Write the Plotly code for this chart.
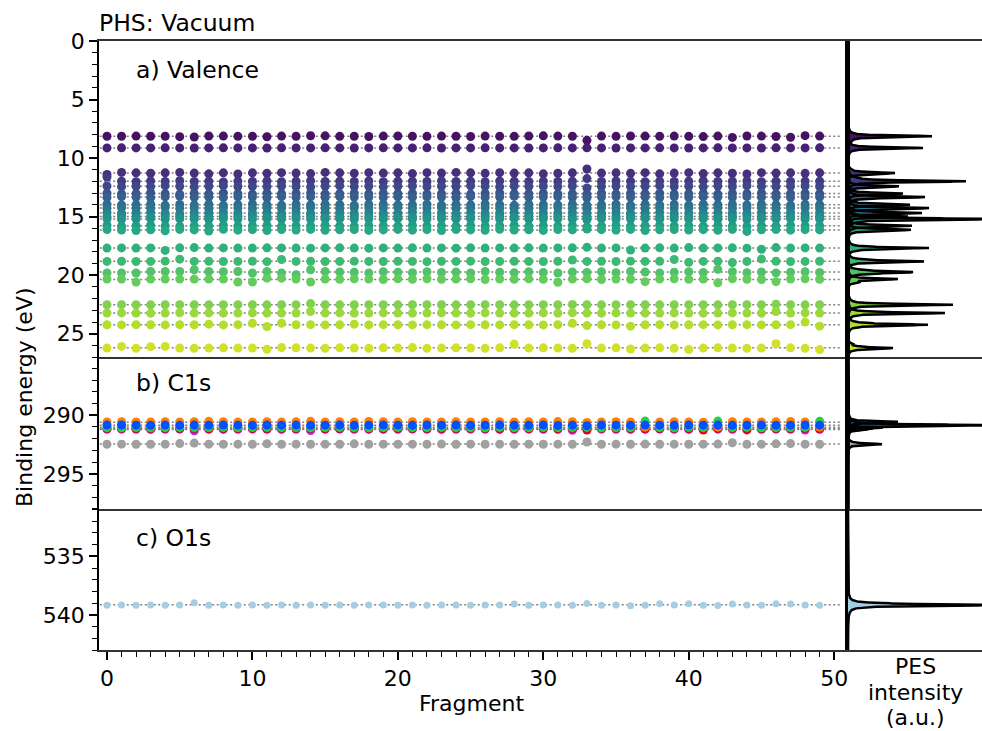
import numpy as np
import plotly.graph_objects as go
from plotly.subplots import make_subplots
from plotly.colors import sample_colorscale

# ---------------- data ----------------
fragments = list(range(50))

val_01 = [8.13, 8.13, 8.12, 8.13, 8.13, 8.17, 8.20, 8.11, 8.12, 8.14,
          8.13, 8.18, 8.12, 8.13, 8.09, 8.10, 8.14, 8.13, 8.15, 8.12,
          8.11, 8.13, 8.14, 8.12, 8.13, 8.15, 8.12, 8.13, 8.14, 8.11,
          8.10, 8.12, 8.13, 8.48, 8.12, 8.14, 8.11, 8.12, 8.13, 8.12,
          8.14, 8.16, 8.12, 8.23, 8.11, 8.12, 8.15, 8.22, 8.08, 8.12]
val_02 = [9.13, 9.12, 9.13, 9.13, 9.12, 9.13, 9.14, 9.13, 9.12, 9.13,
          9.13, 9.14, 9.12, 9.13, 9.13, 9.12, 9.13, 9.14, 9.13, 9.12,
          9.13, 9.13, 9.12, 9.14, 9.13, 9.13, 9.12, 9.13, 9.13, 9.14,
          9.13, 9.12, 9.13, 9.12, 9.13, 9.14, 9.13, 9.13, 9.12, 9.13,
          9.14, 9.13, 9.12, 9.13, 9.13, 9.14, 9.12, 9.13, 9.13, 9.12]
val_03 = [11.39, 11.22, 11.26, 11.29, 11.26, 11.22, 11.28, 11.34, 11.26, 11.36,
          11.26, 11.30, 11.24, 11.28, 11.32, 11.22, 11.26, 11.30, 11.24, 11.28,
          11.26, 11.32, 11.24, 11.28, 11.22, 11.26, 11.30, 11.24, 11.28, 11.26,
          11.34, 11.29, 11.26, 10.93, 11.28, 11.26, 11.30, 11.24, 11.34, 11.28,
          11.24, 11.32, 11.26, 11.29, 11.36, 11.24, 11.28, 11.26, 11.30, 11.26]
val_04 = [11.62, 11.98, 12.01, 11.95, 11.99, 11.93, 12.00, 11.97, 12.03, 11.96,
          11.99, 11.95, 12.01, 11.98, 11.93, 12.00, 11.97, 11.99, 11.95, 12.01,
          11.98, 11.96, 12.00, 11.94, 11.99, 11.97, 12.01, 11.95, 11.98, 12.00,
          11.96, 11.99, 11.97, 11.75, 12.00, 11.95, 11.98, 12.01, 11.96, 11.99,
          11.97, 11.93, 12.00, 11.98, 11.95, 12.01, 11.97, 11.99, 11.96, 11.98]
val_05 = [12.38, 12.44, 12.40, 12.43, 12.36, 12.41, 12.46, 12.40, 12.35, 12.42,
          12.41, 12.44, 12.38, 12.42, 12.47, 12.40, 12.37, 12.43, 12.40, 12.45,
          12.41, 12.38, 12.44, 12.40, 12.42, 12.36, 12.41, 12.45, 12.39, 12.42,
          12.40, 12.43, 12.38, 12.55, 12.42, 12.39, 12.44, 12.41, 12.37, 12.42,
          12.40, 12.45, 12.39, 12.42, 12.36, 12.41, 12.44, 12.40, 12.38, 12.42]
val_06 = [13.00, 13.06, 13.03, 12.96, 13.04, 13.08, 13.01, 13.05, 12.98, 13.03,
          13.07, 13.00, 13.04, 13.02, 12.97, 13.06, 13.03, 13.00, 13.05, 13.02,
          13.04, 12.99, 13.06, 13.03, 13.01, 13.07, 13.02, 12.98, 13.04, 13.03,
          13.01, 13.06, 13.03, 13.10, 13.00, 13.05, 13.02, 13.04, 12.99, 13.06,
          13.03, 13.01, 13.07, 13.02, 13.04, 12.98, 13.05, 13.03, 13.00, 13.04]
val_07 = [13.36, 13.29, 13.33, 13.38, 13.31, 13.26, 13.34, 13.32, 13.37, 13.30,
          13.33, 13.39, 13.29, 13.34, 13.31, 13.36, 13.28, 13.33, 13.32, 13.37,
          13.30, 13.35, 13.31, 13.33, 13.38, 13.29, 13.34, 13.32, 13.27, 13.35,
          13.32, 13.30, 13.36, 13.41, 13.33, 13.29, 13.35, 13.32, 13.38, 13.30,
          13.34, 13.31, 13.33, 13.37, 13.29, 13.35, 13.32, 13.36, 13.30, 13.33]
val_08 = [13.93, 14.00, 13.97, 13.91, 14.02, 13.96, 13.99, 13.94, 14.03, 13.97,
          13.92, 13.98, 14.01, 13.95, 13.99, 13.93, 13.97, 14.02, 13.96, 13.94,
          14.00, 13.97, 13.93, 14.01, 13.96, 13.99, 13.92, 13.98, 14.03, 13.95,
          13.97, 14.00, 13.94, 14.05, 13.98, 13.93, 14.01, 13.96, 13.99, 13.95,
          14.02, 13.94, 13.98, 13.96, 14.00, 13.93, 13.97, 14.01, 13.95, 13.98]
val_09 = [14.28, 14.23, 14.31, 14.26, 14.21, 14.29, 14.25, 14.32, 14.24, 14.27,
          14.30, 14.22, 14.26, 14.29, 14.24, 14.28, 14.32, 14.23, 14.27, 14.25,
          14.21, 14.29, 14.26, 14.24, 14.31, 14.27, 14.23, 14.28, 14.25, 14.30,
          14.26, 14.22, 14.29, 14.36, 14.24, 14.28, 14.26, 14.31, 14.23, 14.27,
          14.25, 14.30, 14.22, 14.28, 14.26, 14.24, 14.31, 14.27, 14.23, 14.29]
val_10 = [14.65, 14.71, 14.68, 14.63, 14.70, 14.74, 14.66, 14.69, 14.62, 14.71,
          14.68, 14.65, 14.73, 14.67, 14.70, 14.64, 14.69, 14.72, 14.66, 14.68,
          14.71, 14.63, 14.69, 14.67, 14.74, 14.65, 14.70, 14.68, 14.64, 14.72,
          14.67, 14.70, 14.65, 14.75, 14.69, 14.66, 14.71, 14.68, 14.63, 14.70,
          14.67, 14.73, 14.65, 14.69, 14.71, 14.66, 14.68, 14.64, 14.72, 14.67]
val_11 = [15.00, 14.95, 14.98, 15.02, 14.94, 14.99, 14.97, 15.03, 14.96, 14.98,
          14.94, 15.01, 14.97, 14.99, 14.95, 15.02, 14.98, 14.96, 15.00, 14.93,
          14.98, 15.01, 14.95, 14.99, 14.97, 15.02, 14.96, 14.98, 15.00, 14.94,
          14.99, 14.97, 15.01, 15.06, 14.96, 15.00, 14.95, 14.98, 15.02, 14.97,
          14.99, 14.95, 15.00, 14.97, 14.93, 15.01, 14.98, 14.96, 15.00, 14.97]
val_12 = [15.18, 15.22, 15.20, 15.17, 15.23, 15.19, 15.21, 15.24, 15.18, 15.20,
          15.22, 15.17, 15.21, 15.19, 15.23, 15.20, 15.18, 15.22, 15.19, 15.21,
          15.17, 15.23, 15.20, 15.18, 15.21, 15.19, 15.24, 15.20, 15.17, 15.22,
          15.20, 15.18, 15.21, 15.27, 15.19, 15.22, 15.20, 15.17, 15.23, 15.19,
          15.21, 15.18, 15.22, 15.20, 15.24, 15.19, 15.21, 15.17, 15.22, 15.20]
val_13 = [15.75, 15.81, 15.77, 15.72, 15.79, 15.83, 15.76, 15.78, 15.73, 15.80,
          15.77, 15.74, 15.82, 15.76, 15.79, 15.73, 15.78, 15.81, 15.75, 15.77,
          15.80, 15.74, 15.78, 15.76, 15.83, 15.75, 15.79, 15.77, 15.72, 15.81,
          15.76, 15.78, 15.74, 15.87, 15.79, 15.75, 15.81, 15.77, 15.73, 15.80,
          15.76, 15.82, 15.75, 15.78, 15.84, 15.76, 15.79, 15.74, 15.80, 15.77]
val_14 = [16.10, 16.14, 16.18, 16.12, 16.20, 16.09, 16.13, 16.22, 16.08, 16.15,
          16.11, 16.18, 16.10, 16.14, 16.09, 16.16, 16.12, 16.10, 16.17, 16.13,
          16.09, 16.15, 16.11, 16.19, 16.10, 16.13, 16.16, 16.08, 16.14, 16.12,
          16.17, 16.10, 16.13, 16.05, 16.11, 16.15, 16.09, 16.18, 16.12, 16.10,
          16.14, 16.11, 16.16, 16.09, 16.26, 16.12, 16.10, 16.15, 16.11, 16.13]
val_15 = [17.68, 17.67, 17.68, 17.67, 17.88, 17.66, 17.64, 17.68, 17.67, 17.68,
          17.68, 17.66, 17.67, 17.68, 17.69, 17.67, 17.66, 17.68, 17.69, 17.67,
          17.68, 17.66, 17.68, 17.67, 17.69, 17.66, 17.68, 17.67, 17.68, 17.66,
          17.68, 17.67, 17.66, 17.62, 17.68, 17.67, 17.85, 17.68, 17.66, 17.68,
          17.64, 17.68, 17.67, 17.66, 17.69, 17.78, 17.64, 17.68, 17.67, 17.68]
val_16 = [18.82, 18.81, 18.83, 18.82, 18.80, 18.63, 18.82, 18.81, 18.83, 18.82,
          18.81, 18.84, 18.66, 18.82, 18.81, 18.83, 18.82, 18.80, 18.82, 18.83,
          18.81, 18.82, 18.84, 18.81, 18.82, 18.80, 18.83, 18.82, 18.81, 18.82,
          18.83, 18.81, 18.70, 18.82, 18.81, 18.83, 18.80, 18.82, 18.81, 18.66,
          18.90, 18.82, 18.81, 18.92, 18.82, 18.62, 18.81, 18.83, 18.82, 18.81]
val_17 = [19.81, 19.81, 19.81, 19.68, 19.68, 19.68, 19.53, 19.68, 19.70, 19.68,
          19.81, 19.68, 19.81, 19.95, 19.53, 19.68, 19.72, 19.75, 19.80, 19.70,
          19.74, 19.78, 19.70, 19.76, 19.72, 19.80, 19.68, 19.75, 19.78, 19.70,
          19.76, 19.81, 19.72, 19.76, 19.70, 19.78, 19.68, 19.72, 19.80, 19.74,
          19.70, 19.76, 19.50, 19.70, 19.78, 19.72, 19.80, 19.74, 19.70, 19.76]
val_18 = [20.33, 20.33, 20.58, 20.33, 20.33, 20.33, 20.33, 20.33, 20.33, 20.58,
          20.58, 20.25, 20.25, 20.33, 20.58, 20.33, 20.35, 20.30, 20.33, 20.36,
          20.31, 20.34, 20.30, 20.35, 20.33, 20.30, 20.36, 20.32, 20.34, 20.31,
          20.35, 20.60, 20.33, 20.30, 20.36, 20.32, 20.34, 20.55, 20.33, 20.31,
          20.35, 20.32, 20.65, 20.30, 20.34, 20.36, 20.55, 20.33, 20.31, 20.34]
val_19 = [22.52, 22.51, 22.52, 22.53, 22.52, 22.51, 22.52, 22.53, 22.52, 22.51,
          22.52, 22.53, 22.52, 22.51, 22.42, 22.52, 22.53, 22.52, 22.51, 22.52,
          22.53, 22.52, 22.51, 22.52, 22.53, 22.52, 22.51, 22.52, 22.53, 22.52,
          22.51, 22.52, 22.50, 22.52, 22.53, 22.52, 22.51, 22.52, 22.53, 22.52,
          22.51, 22.52, 22.53, 22.52, 22.51, 22.52, 22.48, 22.52, 22.53, 22.52]
val_20 = [23.23, 23.22, 23.23, 23.24, 23.23, 23.20, 23.23, 23.22, 23.24, 23.23,
          23.22, 23.23, 23.24, 23.23, 23.10, 23.23, 23.22, 23.24, 23.23, 23.22,
          23.23, 23.24, 23.23, 23.22, 23.23, 23.24, 23.22, 23.23, 23.24, 23.23,
          23.22, 23.23, 23.20, 23.23, 23.24, 23.22, 23.23, 23.24, 23.23, 23.22,
          23.23, 23.24, 23.23, 23.22, 23.23, 23.24, 23.10, 23.23, 23.22, 23.23]
val_21 = [24.23, 24.24, 24.22, 24.23, 24.24, 24.22, 24.23, 24.18, 24.24, 24.22,
          24.10, 24.38, 24.10, 24.23, 24.22, 24.24, 24.23, 24.18, 24.24, 24.22,
          24.23, 24.24, 24.22, 24.23, 24.24, 24.22, 24.23, 24.24, 24.22, 24.23,
          24.24, 24.22, 24.10, 24.30, 24.23, 24.24, 24.35, 24.23, 24.22, 24.24,
          24.23, 24.22, 24.24, 24.23, 24.22, 24.24, 24.23, 24.22, 24.00, 24.35]
val_22 = [26.22, 26.08, 26.24, 26.10, 26.08, 26.22, 26.24, 26.22, 26.20, 26.22,
          26.22, 26.32, 26.18, 26.20, 26.22, 26.24, 26.20, 26.22, 26.24, 26.20,
          26.22, 26.18, 26.24, 26.22, 26.20, 26.22, 26.24, 26.20, 25.88, 26.22,
          26.20, 26.22, 26.24, 25.85, 26.22, 26.20, 26.30, 26.22, 26.20, 26.24,
          26.35, 26.22, 26.20, 26.22, 26.24, 26.22, 25.85, 26.20, 26.24, 26.35]

valence_series = [val_01, val_02, val_03, val_04, val_05, val_06, val_07, val_08,
                  val_09, val_10, val_11, val_12, val_13, val_14, val_15, val_16,
                  val_17, val_18, val_19, val_20, val_21, val_22]
# relative PES peak intensity of each valence level (a.u.)
valence_intensity = [84, 75, 47, 118, 51, 55, 77, 62, 81, 74, 60, 150,
                     64, 63, 81, 76, 65, 50, 105, 97, 80, 45]

c1s_gray = [292.48, 292.47, 292.48, 292.48, 292.47, 292.42, 292.38, 292.47, 292.48, 292.47,
            292.48, 292.43, 292.48, 292.47, 292.48, 292.47, 292.48, 292.44, 292.48, 292.47,
            292.48, 292.47, 292.48, 292.46, 292.48, 292.47, 292.48, 292.47, 292.48, 292.47,
            292.48, 292.47, 292.48, 292.28, 292.48, 292.47, 292.48, 292.46, 292.48, 292.47,
            292.48, 292.47, 292.46, 292.35, 292.48, 292.47, 292.44, 292.42, 292.47, 292.48]
c1s_purple = [291.20, 291.19, 291.20, 291.21, 291.20, 291.19, 291.32, 291.20, 291.21, 291.20,
              291.19, 291.20, 291.21, 291.20, 291.30, 291.20, 291.19, 291.20, 291.21, 291.20,
              291.20, 291.19, 291.20, 291.21, 291.20, 291.19, 291.20, 291.21, 291.20, 291.19,
              291.20, 291.21, 291.28, 291.20, 291.19, 291.20, 291.21, 291.20, 291.19, 291.20,
              291.21, 291.20, 291.19, 291.20, 291.21, 291.20, 291.19, 291.20, 291.27, 291.20]
c1s_red = [291.14, 291.13, 291.14, 291.15, 291.14, 291.13, 291.14, 291.15, 291.14, 291.13,
           291.14, 291.15, 291.14, 291.13, 291.14, 291.15, 291.14, 291.13, 291.14, 291.15,
           291.14, 291.13, 291.14, 291.15, 291.14, 291.13, 291.14, 291.15, 291.14, 291.13,
           291.14, 291.15, 291.14, 291.26, 291.14, 291.13, 291.14, 291.15, 291.14, 291.13,
           291.14, 291.26, 291.14, 291.13, 291.25, 291.15, 291.14, 291.13, 291.14, 291.15]
c1s_green = [291.06, 291.07, 291.05, 291.07, 291.06, 291.04, 291.06, 291.05, 291.04, 291.06,
             291.05, 291.04, 291.06, 291.05, 291.07, 291.05, 291.04, 291.06, 291.07, 291.05,
             291.04, 291.06, 291.05, 291.04, 291.06, 291.05, 291.07, 291.04, 291.06, 291.05,
             291.04, 291.06, 291.05, 291.04, 291.07, 291.05, 291.06, 290.50, 291.05, 291.07,
             291.04, 291.06, 290.50, 291.05, 291.04, 291.07, 291.06, 291.05, 291.04, 290.52]
c1s_orange = [290.57, 290.55, 290.57, 290.58, 290.56, 290.58, 290.55, 290.52, 290.56, 290.57,
              290.58, 290.56, 290.57, 290.55, 290.52, 290.58, 290.56, 290.57, 290.53, 290.56,
              290.57, 290.55, 290.58, 290.57, 290.56, 290.57, 290.58, 290.56, 290.57, 290.55,
              290.57, 290.54, 290.56, 290.62, 290.57, 290.56, 290.58, 291.02, 290.57, 290.55,
              290.58, 290.60, 291.02, 290.56, 290.58, 290.57, 290.56, 290.53, 290.57, 291.00]
c1s_blue = [290.84, 290.83, 290.85, 290.86, 290.84, 290.86, 290.84, 290.85, 290.84, 290.85,
            290.86, 290.84, 290.85, 290.84, 290.86, 290.85, 290.84, 290.86, 290.85, 290.84,
            290.85, 290.86, 290.84, 290.85, 290.84, 290.86, 290.85, 290.84, 290.85, 290.86,
            290.84, 290.88, 290.85, 290.90, 290.84, 290.85, 290.86, 290.84, 290.85, 290.86,
            290.84, 290.85, 290.84, 290.86, 290.85, 290.84, 290.86, 290.85, 290.84, 290.85]

c1s_series = [c1s_gray, c1s_purple, c1s_red, c1s_green, c1s_orange, c1s_blue]
c1s_colors = ['#a0a0a0', '#9b30ff', '#e6001e', '#2ecc40', '#ff7f00', '#0050ff']
c1s_intensity = [34, 20, 25, 35, 50, 150]

o1s_01 = [539.17, 539.16, 539.17, 539.15, 539.17, 539.16, 538.96, 539.17, 539.16, 539.17,
          539.15, 539.17, 539.16, 539.17, 539.15, 539.17, 539.16, 539.17, 539.16, 539.15,
          539.17, 539.16, 539.17, 539.15, 539.16, 539.17, 539.15, 539.16, 539.08, 539.17,
          539.16, 539.15, 539.17, 539.02, 539.17, 539.16, 539.22, 539.17, 539.06, 539.16,
          539.06, 539.17, 539.19, 539.08, 539.16, 539.17, 539.06, 539.08, 539.16, 539.17]
o1s_series = [o1s_01]
o1s_colors = ['#a6cee3']
o1s_intensity = [150]

y_ranges = [[27.0, 0.0], [298.04, 285.05], [543.0, 531.0]]
x_range = [-0.55, 50.95]
pes_range = [0, 134]

for s in valence_series + c1s_series + o1s_series:
    assert len(s) == 50, len(s)
assert len(valence_intensity) == len(valence_series)

# ---------------- figure ----------------
FONT = 'DejaVu Sans'
valence_colors = sample_colorscale('Viridis', [0.05 + 0.88 * i / 21 for i in range(22)])

fig = make_subplots(rows=3, cols=2, column_widths=[749, 134], row_heights=[27, 13, 12],
                    horizontal_spacing=0, vertical_spacing=0)

GAMMA = 0.065
panels = [
    (valence_series, valence_colors, valence_intensity, 9),
    (c1s_series, c1s_colors, c1s_intensity, 9),
    (o1s_series, o1s_colors, o1s_intensity, 7),
]
for r, (series, colors, inten, msize) in enumerate(panels, start=1):
    for vals in series:
        m = float(np.mean(vals))
        fig.add_trace(go.Scatter(x=[-0.5, 50.5], y=[m, m], mode='lines',
                                 line=dict(color='#808080', width=1.5, dash='2px,2.5px'),
                                 hoverinfo='skip', showlegend=False), row=r, col=1)
    for vals, c in zip(series, colors):
        fig.add_trace(go.Scatter(x=fragments, y=vals, mode='markers',
                                 marker=dict(color=c, size=msize, line=dict(width=0)),
                                 showlegend=False), row=r, col=1)
    lo, hi = sorted(y_ranges[r - 1])
    grid = np.linspace(lo, hi, 9000)
    curves = []
    for vals, h in zip(series, inten):
        ev = np.asarray(vals, dtype=float)
        e = np.sort(np.concatenate([grid, ev]))
        s = (GAMMA ** 2 / ((e[:, None] - ev[None, :]) ** 2 + GAMMA ** 2)).sum(axis=1)
        curves.append((e, h * s / s.max()))
    for (e, inten_curve), c in zip(curves, colors):
        fig.add_trace(go.Scatter(x=inten_curve, y=e, mode='lines', fill='tozerox',
                                 fillcolor=c, line=dict(width=0, color=c),
                                 hoverinfo='skip', showlegend=False), row=r, col=2)
    for (e, inten_curve) in curves:
        fig.add_trace(go.Scatter(x=inten_curve, y=e, mode='lines',
                                 line=dict(width=2.5, color='black'),
                                 hoverinfo='skip', showlegend=False), row=r, col=2)

tickfont = dict(family=FONT, size=22, color='black')
for r in range(1, 4):
    fig.update_yaxes(range=y_ranges[r - 1], showline=True, linecolor='black', linewidth=1.5,
                     ticks='outside', ticklen=8, tickwidth=1.5, tickcolor='black', dtick=5,
                     tick0=0, tickfont=tickfont, showgrid=False, zeroline=False,
                     minor=dict(dtick=1, tick0=0, ticks='outside', ticklen=5, tickwidth=1,
                                tickcolor='black', showgrid=False),
                     row=r, col=1)
    fig.update_yaxes(range=y_ranges[r - 1], showline=True, linecolor='black', linewidth=3,
                     ticks='', showticklabels=False, showgrid=False, zeroline=False,
                     row=r, col=2)
    fig.update_xaxes(range=x_range, showline=True, linecolor='#333333', linewidth=1.5,
                     mirror=(r == 1), showgrid=False, zeroline=False,
                     ticks='' if r < 3 else 'outside', showticklabels=(r == 3),
                     row=r, col=1)
    fig.update_xaxes(range=pes_range, showline=True, linecolor='#333333', linewidth=1.5,
                     mirror=(r == 1), showgrid=False, zeroline=False, ticks='',
                     showticklabels=False, row=r, col=2)

fig.update_xaxes(dtick=10, tick0=0, ticklen=8, tickwidth=1.5, tickcolor='black',
                 tickfont=tickfont,
                 minor=dict(dtick=1, tick0=0, ticks='outside', ticklen=5, tickwidth=1,
                            tickcolor='black', showgrid=False),
                 row=3, col=1)

L, T, W, H = 99, 41, 883, 609


def px(xp):
    return (xp - L) / W


def py(yp):
    return (T + H - yp) / H


annos = [
    dict(text='PHS: Vacuum', x=px(97), y=py(23), xanchor='left', size=23.5),
    dict(text='a) Valence', x=px(134), y=py(70), xanchor='left', size=23.5),
    dict(text='b) C1s', x=px(134), y=py(383), xanchor='left', size=23.5),
    dict(text='c) O1s', x=px(134), y=py(538), xanchor='left', size=23.5),
    dict(text='Fragment', x=px(471), y=py(703), xanchor='center', size=22),
    dict(text='PES', x=px(915), y=py(666), xanchor='center', size=22),
    dict(text='intensity', x=px(915), y=py(692), xanchor='center', size=22),
    dict(text='(a.u.)', x=px(915), y=py(717), xanchor='center', size=22),
]
for a in annos:
    fig.add_annotation(text=a['text'], x=a['x'], y=a['y'], xref='paper', yref='paper',
                       xanchor=a['xanchor'], yanchor='middle', showarrow=False,
                       font=dict(family=FONT, size=a['size'], color='black'))
fig.add_annotation(text='Binding energy (eV)', x=px(25), y=py(397), xref='paper', yref='paper',
                   xanchor='center', yanchor='middle', textangle=-90, showarrow=False,
                   font=dict(family=FONT, size=22, color='black'))

fig.update_layout(width=982, height=731, margin=dict(l=L, r=0, t=T, b=731 - T - H),
                  plot_bgcolor='white', paper_bgcolor='white', showlegend=False,
                  font=dict(family=FONT, size=20, color='black'))

fig.write_html('out.html')
